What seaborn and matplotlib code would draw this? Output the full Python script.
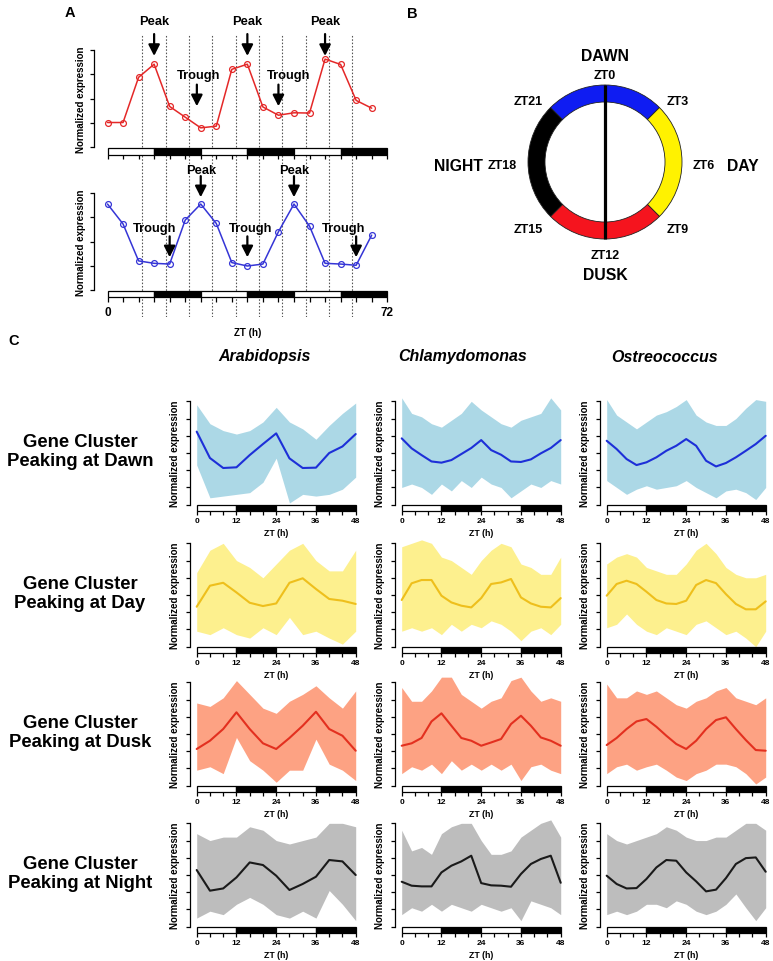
import numpy as np
import pandas as pd
import matplotlib
matplotlib.use("Agg")
import matplotlib.pyplot as plt
import seaborn as sns

# ---------------- data ----------------
# Panel A (ZT 0..68 every 4 h)
A_ZT = [0, 4, 8, 12, 16, 20, 24, 28, 32, 36, 40, 44, 48, 52, 56, 60, 64, 68]
A_RED = [1.02, 1.02, 2.88, 3.42, 1.68, 1.24, 0.80, 0.87, 3.21, 3.42, 1.66, 1.32, 1.42, 1.41, 3.63, 3.41, 1.93, 1.61]
A_BLUE = [3.55, 2.73, 1.21, 1.11, 1.08, 2.89, 3.55, 2.75, 1.14, 1.00, 1.08, 2.41, 3.55, 2.64, 1.11, 1.08, 1.03, 2.27]
A_RED_PEAKS = [12, 36, 56]
A_RED_TROUGHS = [23, 44]
A_BLUE_PEAKS = [24, 48]
A_BLUE_TROUGHS = [16, 36, 64]
A_DOTTED_ZT = [9, 15, 21, 27, 33, 39, 45, 51, 57, 63]
A_LD_START = [0, 12, 24, 36, 48, 60]
A_LD_COLOR = ["white", "black", "white", "black", "white", "black"]

# Panel B (clock ring)
B_ZT_BOUNDS = [0, 3, 9, 15, 21, 24]
B_SEG_COLORS = ["#0f1cf2", "#fff200", "#f5141e", "#000000", "#0f1cf2"]
B_ZT_LABELS = [0, 3, 6, 9, 12, 15, 18, 21]
B_PHASES = ["DAWN", "DAY", "DUSK", "NIGHT"]
B_PHASE_ZT = [0, 6, 12, 18]

# Panel C
SPECIES = ["Arabidopsis", "Chlamydomonas", "Ostreococcus"]
CLUSTERS = ["Dawn", "Day", "Dusk", "Night"]
C_LD_START = [0, 12, 24, 36]
C_LD_COLOR = ["white", "black", "white", "black"]

ARA_T = [0, 4, 8, 12, 16, 20, 24, 28, 32, 36, 40, 44, 48]
CHL_T = [0, 3, 6, 9, 12, 15, 18, 21, 24, 27, 30, 33, 36, 39, 42, 45, 48]
OST_T = [0, 3, 6, 9, 12, 15, 18, 21, 24, 27, 30, 33, 36, 39, 42, 45, 48]

ARA_DAWN_MEAN = [4.24, 2.71, 2.13, 2.17, 2.88, 3.52, 4.14, 2.69, 2.13, 2.15, 3.00, 3.38, 4.10]
ARA_DAWN_HI = [5.8, 4.7, 4.3, 4.1, 4.3, 4.8, 5.65, 4.8, 4.4, 3.8, 4.6, 5.3, 5.9]
ARA_DAWN_LO = [2.3, 0.4, 0.5, 0.6, 0.7, 1.3, 2.7, 0.1, 0.6, 0.5, 0.6, 0.9, 1.6]
CHL_DAWN_MEAN = [3.85, 3.27, 2.88, 2.51, 2.44, 2.59, 2.94, 3.29, 3.75, 3.17, 2.90, 2.51, 2.48, 2.63, 2.98, 3.29, 3.75]
CHL_DAWN_HI = [6.2, 5.3, 5.1, 4.7, 4.5, 4.9, 5.3, 6.0, 5.5, 5.1, 4.7, 4.5, 4.9, 5.1, 5.3, 6.2, 5.5]
CHL_DAWN_LO = [1.0, 1.2, 1.0, 0.6, 1.2, 0.8, 1.4, 1.0, 1.6, 1.2, 1.0, 0.4, 0.8, 1.2, 1.0, 1.4, 1.2]
OST_DAWN_MEAN = [3.71, 3.23, 2.65, 2.30, 2.46, 2.75, 3.13, 3.42, 3.81, 3.42, 2.55, 2.22, 2.42, 2.75, 3.13, 3.52, 4.00]
OST_DAWN_HI = [6.1, 5.2, 4.8, 4.4, 4.8, 5.2, 5.4, 5.7, 6.1, 5.2, 4.8, 4.6, 4.6, 5.0, 5.6, 6.1, 6.0]
OST_DAWN_LO = [1.4, 1.0, 0.6, 0.9, 1.1, 0.9, 1.0, 1.1, 1.4, 1.0, 0.7, 0.4, 0.8, 0.9, 0.7, 0.3, 1.0]

ARA_DAY_MEAN = [2.32, 3.54, 3.71, 3.15, 2.55, 2.36, 2.51, 3.71, 3.97, 3.35, 2.77, 2.67, 2.48]
ARA_DAY_HI = [4.3, 5.6, 6.0, 5.0, 4.6, 4.0, 4.8, 5.6, 6.0, 5.0, 4.4, 4.4, 5.6]
ARA_DAY_LO = [0.9, 0.7, 1.1, 0.7, 0.5, 1.1, 0.7, 1.7, 0.7, 0.9, 0.5, 0.15, 0.9]
CHL_DAY_MEAN = [2.71, 3.68, 3.87, 3.87, 2.96, 2.57, 2.38, 2.28, 2.82, 3.64, 3.73, 3.93, 2.86, 2.51, 2.32, 2.28, 2.82]
CHL_DAY_HI = [5.8, 6.0, 6.2, 6.0, 5.2, 5.0, 4.6, 4.2, 5.0, 5.6, 6.0, 5.8, 4.8, 4.6, 4.2, 4.2, 5.2]
CHL_DAY_LO = [0.9, 1.1, 0.9, 1.1, 0.7, 1.3, 0.9, 1.3, 1.1, 1.5, 1.3, 0.9, 0.35, 0.9, 1.1, 0.7, 1.3]
OST_DAY_MEAN = [2.96, 3.64, 3.83, 3.64, 3.19, 2.71, 2.51, 2.48, 2.67, 3.58, 3.87, 3.69, 3.05, 2.48, 2.17, 2.17, 2.63]
OST_DAY_HI = [4.8, 5.2, 5.4, 5.2, 4.6, 4.4, 4.2, 4.2, 4.8, 5.6, 6.0, 5.4, 4.6, 4.2, 4.0, 4.0, 4.2]
OST_DAY_LO = [1.1, 1.3, 1.9, 1.3, 0.9, 0.7, 1.1, 0.9, 0.7, 1.3, 1.5, 1.1, 0.7, 0.9, 0.5, 0.0, 0.9]

ARA_DUSK_MEAN = [2.13, 2.61, 3.29, 4.26, 3.29, 2.46, 2.13, 2.77, 3.48, 4.29, 3.29, 2.90, 2.03]
ARA_DUSK_HI = [4.8, 4.6, 5.1, 6.1, 5.3, 4.5, 4.2, 4.9, 5.3, 5.8, 5.1, 4.5, 5.5]
ARA_DUSK_LO = [0.9, 1.1, 0.7, 2.8, 1.45, 0.9, 0.2, 0.9, 0.9, 2.7, 1.25, 0.9, 0.3]
CHL_DUSK_MEAN = [2.32, 2.46, 2.77, 3.73, 4.20, 3.48, 2.77, 2.61, 2.32, 2.51, 2.71, 3.58, 4.06, 3.48, 2.80, 2.61, 2.32]
CHL_DUSK_HI = [5.7, 4.9, 4.9, 5.5, 6.3, 6.3, 5.3, 4.9, 4.5, 4.9, 5.1, 6.1, 6.3, 5.5, 4.9, 5.1, 4.9]
CHL_DUSK_LO = [0.7, 1.1, 0.9, 1.25, 0.7, 1.45, 0.9, 1.25, 0.9, 1.25, 0.9, 1.25, 0.3, 1.1, 1.25, 0.9, 0.7]
OST_DUSK_MEAN = [2.36, 2.77, 3.29, 3.73, 3.87, 3.42, 2.90, 2.42, 2.13, 2.61, 3.29, 3.81, 3.97, 3.29, 2.65, 2.07, 2.03]
OST_DUSK_HI = [5.9, 5.1, 5.1, 5.5, 5.3, 5.5, 5.1, 4.7, 4.5, 4.9, 5.1, 5.5, 5.7, 5.1, 4.9, 4.7, 5.1]
OST_DUSK_LO = [0.7, 1.1, 1.25, 0.9, 1.1, 1.25, 0.9, 0.5, 0.3, 0.7, 0.9, 1.25, 1.25, 1.1, 0.7, 0.1, 0.5]

ARA_NIGHT_MEAN = [3.29, 2.09, 2.22, 2.86, 3.73, 3.58, 2.96, 2.13, 2.48, 2.90, 3.87, 3.79, 3.00]
ARA_NIGHT_HI = [5.4, 5.0, 5.2, 5.2, 5.8, 5.6, 5.0, 4.8, 5.0, 5.2, 6.0, 6.0, 5.8]
ARA_NIGHT_LO = [0.5, 0.9, 0.7, 1.3, 1.7, 1.3, 0.7, 0.5, 0.9, 0.5, 2.1, 1.3, 0.35]
CHL_NIGHT_MEAN = [2.61, 2.38, 2.34, 2.34, 3.15, 3.54, 3.79, 4.12, 2.53, 2.40, 2.38, 2.32, 3.06, 3.64, 3.93, 4.12, 2.55]
CHL_NIGHT_HI = [5.6, 4.4, 4.6, 4.2, 5.4, 5.8, 6.0, 6.0, 5.0, 4.2, 4.2, 4.4, 5.2, 5.6, 6.0, 6.2, 5.2]
CHL_NIGHT_LO = [0.7, 1.1, 0.9, 1.3, 0.9, 1.3, 1.1, 0.9, 1.3, 1.1, 0.9, 1.1, 0.35, 1.5, 1.3, 1.1, 0.7]
OST_NIGHT_MEAN = [2.96, 2.48, 2.22, 2.24, 2.77, 3.44, 3.87, 3.83, 3.15, 2.63, 2.05, 2.15, 2.82, 3.64, 3.98, 4.02, 3.19]
OST_NIGHT_HI = [5.4, 5.0, 4.8, 5.0, 5.2, 5.4, 5.8, 5.6, 5.2, 5.0, 5.0, 5.2, 5.2, 5.6, 6.0, 6.0, 5.6]
OST_NIGHT_LO = [0.7, 0.9, 0.7, 0.9, 1.3, 1.3, 1.1, 1.5, 1.3, 0.9, 0.7, 0.9, 1.3, 1.9, 1.1, 0.35, 1.1]

CLUSTER_FILL = {"Dawn": "#acd8e6", "Day": "#fdf08e", "Dusk": "#fda283", "Night": "#bdbdbd"}
CLUSTER_LINE = {"Dawn": "#1d2fd8", "Day": "#eebf1c", "Dusk": "#e3301f", "Night": "#1a1a1a"}

PANEL_DATA = {
    ("Arabidopsis", "Dawn"): (ARA_T, ARA_DAWN_MEAN, ARA_DAWN_HI, ARA_DAWN_LO),
    ("Chlamydomonas", "Dawn"): (CHL_T, CHL_DAWN_MEAN, CHL_DAWN_HI, CHL_DAWN_LO),
    ("Ostreococcus", "Dawn"): (OST_T, OST_DAWN_MEAN, OST_DAWN_HI, OST_DAWN_LO),
    ("Arabidopsis", "Day"): (ARA_T, ARA_DAY_MEAN, ARA_DAY_HI, ARA_DAY_LO),
    ("Chlamydomonas", "Day"): (CHL_T, CHL_DAY_MEAN, CHL_DAY_HI, CHL_DAY_LO),
    ("Ostreococcus", "Day"): (OST_T, OST_DAY_MEAN, OST_DAY_HI, OST_DAY_LO),
    ("Arabidopsis", "Dusk"): (ARA_T, ARA_DUSK_MEAN, ARA_DUSK_HI, ARA_DUSK_LO),
    ("Chlamydomonas", "Dusk"): (CHL_T, CHL_DUSK_MEAN, CHL_DUSK_HI, CHL_DUSK_LO),
    ("Ostreococcus", "Dusk"): (OST_T, OST_DUSK_MEAN, OST_DUSK_HI, OST_DUSK_LO),
    ("Arabidopsis", "Night"): (ARA_T, ARA_NIGHT_MEAN, ARA_NIGHT_HI, ARA_NIGHT_LO),
    ("Chlamydomonas", "Night"): (CHL_T, CHL_NIGHT_MEAN, CHL_NIGHT_HI, CHL_NIGHT_LO),
    ("Ostreococcus", "Night"): (OST_T, OST_NIGHT_MEAN, OST_NIGHT_HI, OST_NIGHT_LO),
}

# ---------------- style ----------------
sns.set_theme(style="white")
plt.rcParams["font.family"] = ["Liberation Sans", "DejaVu Sans"]
plt.rcParams["font.weight"] = "bold"
plt.rcParams["axes.labelweight"] = "bold"
plt.rcParams["text.color"] = "black"
plt.rcParams["axes.labelcolor"] = "black"
plt.rcParams["xtick.color"] = "black"
plt.rcParams["ytick.color"] = "black"
plt.rcParams["xtick.labelcolor"] = "black"
plt.rcParams["ytick.labelcolor"] = "black"

W, H = 773, 962
fig = plt.figure(figsize=(W / 100, H / 100), dpi=100)


def add_px_axes(x0, x1, ytop, ybot):
    ax = fig.add_axes([x0 / W, 1 - ybot / H, (x1 - x0) / W, (ybot - ytop) / H])
    ax.set_facecolor("none")
    return ax


def data_axes(x_at0, sx, xlim, y_at0, sy, ylim):
    ax = add_px_axes(x_at0 + sx * xlim[0], x_at0 + sx * xlim[1],
                     y_at0 - sy * ylim[1], y_at0 - sy * ylim[0])
    ax.set_xlim(*xlim)
    ax.set_ylim(*ylim)
    return ax


def style_left_axis(ax, ticks):
    for s in ["top", "right", "bottom"]:
        ax.spines[s].set_visible(False)
    ax.spines["left"].set_bounds(ticks[0], ticks[-1])
    ax.spines["left"].set_color("black")
    ax.spines["left"].set_linewidth(0.9)
    ax.set_yticks(ticks)
    ax.set_yticklabels([])
    ax.set_xticks([])
    ax.tick_params(axis="y", left=True, direction="out", length=3.0, width=0.9,
                   color="black")
    ax.grid(False)


def ld_bar(x0_px, x1_px, ytop, ybot, starts, colors, total, tick_step, labels, label_size,
           xlabel=None, xlabel_size=6, labelpad=2, ticklen=3, pad=1.5):
    bx = add_px_axes(x0_px, x1_px, ytop, ybot)
    bx.bar(starts, [1] * len(starts), width=12, align="edge", color=colors,
           edgecolor="black", linewidth=0.9, clip_on=False)
    bx.set_xlim(0, total)
    bx.set_ylim(0, 1)
    for s in bx.spines.values():
        s.set_visible(False)
    ticks = list(range(0, total + 1, tick_step))
    bx.set_xticks(ticks)
    bx.set_xticklabels([str(t) if t in labels else "" for t in ticks],
                       fontsize=label_size, fontweight="bold")
    bx.set_yticks([])
    bx.tick_params(axis="x", bottom=True, direction="out", length=ticklen, width=0.9,
                   color="black", pad=pad)
    if xlabel:
        bx.set_xlabel(xlabel, fontsize=xlabel_size, fontweight="bold", labelpad=labelpad)
    bx.grid(False)
    return bx


# ---------------- Panel A ----------------
AX0, ASX = 107.5, 3.885
A_TOP_Y0, A_BOT_Y0, ASY = 148.3, 291.3, 24.3

# dotted guide lines spanning both plots
ov = data_axes(AX0, ASX, (-3.6, 73.0), 318, 283, (0, 1))
ov.axis("off")
ov.vlines(A_DOTTED_ZT, 0, 1, colors="#555555", linestyles=(0, (1.4, 1.6)), linewidth=0.8)

arrow_kw = dict(arrowstyle="-|>,head_length=0.55,head_width=0.28", color="black", lw=1.6,
                shrinkA=0, shrinkB=0)


def panel_a(y0, values, color, peaks, troughs, ylim, peak_arrow, trough_arrow,
            peak_text_v, trough_text_v, trough_dx):
    ax = data_axes(AX0, ASX, (-3.6, 73.0), y0, ASY, ylim)
    sns.lineplot(x=A_ZT, y=values, ax=ax, color=color, linewidth=1.1, marker="o",
                 markersize=4.2, markerfacecolor="none", markeredgecolor=color,
                 markeredgewidth=0.9, zorder=3)
    style_left_axis(ax, [0, 1, 2, 3, 4])
    ax.set_xlabel("")
    ax.set_ylabel("Normalized expression", fontsize=7, fontweight="bold")
    ax.yaxis.set_label_coords((86.5 - (AX0 - 3.6 * ASX)) / (76.6 * ASX),
                              (2 - ylim[0]) / (ylim[1] - ylim[0]))
    for p in peaks:
        ax.annotate("", xy=(p, peak_arrow[1]), xytext=(p, peak_arrow[0]), arrowprops=arrow_kw)
        ax.text(p, peak_text_v, "Peak", ha="center", va="center", fontsize=9.3,
                fontweight="bold")
    for t, dx in zip(troughs, trough_dx):
        ax.annotate("", xy=(t, trough_arrow[1]), xytext=(t, trough_arrow[0]),
                    arrowprops=arrow_kw)
        ax.text(t + dx, trough_text_v, "Trough", ha="center", va="center", fontsize=9.3,
                fontweight="bold")
    return ax


panel_a(A_TOP_Y0, A_RED, "#e42828", A_RED_PEAKS, A_RED_TROUGHS, (-0.2, 5.6),
        (4.66, 3.76), (2.58, 1.69), 5.2, 2.98, [0.4, 2.5])
panel_a(A_BOT_Y0, A_BLUE, "#3535d6", A_BLUE_PEAKS, A_BLUE_TROUGHS, (-0.2, 5.3),
        (4.70, 3.83), (2.22, 1.36), 4.96, 2.55, [-4.0, 0.9, -3.2])

ld_bar(AX0, AX0 + 72 * ASX, 148.6, 155.6, A_LD_START, A_LD_COLOR, 72, 4, [], 8)
ld_bar(AX0, AX0 + 72 * ASX, 291.8, 298.4, A_LD_START, A_LD_COLOR, 72, 4, [0, 72], 8.5,
       xlabel="ZT (h)", xlabel_size=7, labelpad=6, ticklen=3.5, pad=3)

# ---------------- Panel B ----------------
BC_X, BC_Y, BR = 605, 163, 77
bax = add_px_axes(BC_X - 1.3 * BR, BC_X + 1.3 * BR, BC_Y - 1.3 * BR, BC_Y + 1.3 * BR)
seg_sizes = np.diff(B_ZT_BOUNDS)
bax.pie(seg_sizes, colors=B_SEG_COLORS, startangle=90, counterclock=False, radius=1.0,
        wedgeprops=dict(width=17 / BR, edgecolor="#222222", linewidth=0.6))
bax.set_xlim(-1.3, 1.3)
bax.set_ylim(-1.3, 1.3)
bax.set_aspect("equal")
diam = np.radians(90 - 15 * np.array([0, 12]))
bax.plot(np.cos(diam), np.sin(diam), color="black", lw=2.3, solid_capstyle="butt")
for h in B_ZT_LABELS:
    a = np.radians(90 - 15 * h)
    c, s = np.cos(a), np.sin(a)
    ha = "center" if abs(c) < 0.1 else ("left" if c > 0 else "right")
    bax.text(1.14 * c, 1.17 * s - 0.04, f"ZT{h}", ha=ha, va="center", fontsize=9,
             fontweight="bold")
for name, h in zip(B_PHASES, B_PHASE_ZT):
    a = np.radians(90 - 15 * h)
    c, s = np.cos(a), np.sin(a)
    ha = "center" if abs(c) < 0.1 else ("left" if c > 0 else "right")
    bax.text(1.58 * c, 1.42 * s - 0.04, name, ha=ha, va="center", fontsize=11.3,
             fontweight="bold")

# ---------------- Panel C ----------------
ROW_Y0 = [505.7, 647.7, 786.7, 927.7]
COL_X0 = [196.7, 401.7, 606.7]
CSX, CSY = 159 / 48, 17.23
CXLIM, CYLIM = (-1.95, 48.3), (-0.45, 6.6)
TITLE_X = [265, 463, 665]

for ci, sp in enumerate(SPECIES):
    fig.text(TITLE_X[ci] / W, 1 - 357 / H, sp, ha="center", va="center", fontsize=11.5,
             fontweight="bold", fontstyle="italic")

for ri, cl in enumerate(CLUSTERS):
    fig.text(80 / W, 1 - (ROW_Y0[ri] - 54) / H, f"Gene Cluster\nPeaking at {cl}",
             ha="center", va="center", fontsize=13.3, fontweight="bold", linespacing=1.15)
    for ci, sp in enumerate(SPECIES):
        T, mean, hi, lo = PANEL_DATA[(sp, cl)]
        X0, Yb = COL_X0[ci], ROW_Y0[ri]
        ax = data_axes(X0, CSX, CXLIM, Yb, CSY, CYLIM)
        ax.fill_between(T, lo, hi, color=CLUSTER_FILL[cl], linewidth=0, zorder=1)
        sns.lineplot(x=T, y=mean, ax=ax, color=CLUSTER_LINE[cl], linewidth=1.5, zorder=3)
        style_left_axis(ax, [0, 1, 2, 3, 4, 5, 6])
        ax.set_xlabel("")
        ax.set_ylabel("Normalized expression", fontsize=7, fontweight="bold")
        left_px = X0 + CSX * CXLIM[0]
        ax.yaxis.set_label_coords((180.0 - 196.7 + X0 - left_px) / (CSX * (CXLIM[1] - CXLIM[0])),
                                  (3 - CYLIM[0]) / (CYLIM[1] - CYLIM[0]))
        ld_bar(X0, X0 + 48 * CSX, Yb + 0.6, Yb + 6.4, C_LD_START, C_LD_COLOR, 48, 4,
               [0, 12, 24, 36, 48], 6, xlabel="ZT (h)", xlabel_size=6.3, labelpad=2.5,
               ticklen=3, pad=1.5)

# panel letters
fig.text(70 / W, 1 - 13 / H, "A", ha="center", va="center", fontsize=10.5, fontweight="bold")
fig.text(412 / W, 1 - 14 / H, "B", ha="center", va="center", fontsize=10.5, fontweight="bold")
fig.text(14 / W, 1 - 341 / H, "C", ha="center", va="center", fontsize=10.5, fontweight="bold")

fig.savefig("out.png", dpi=100)
